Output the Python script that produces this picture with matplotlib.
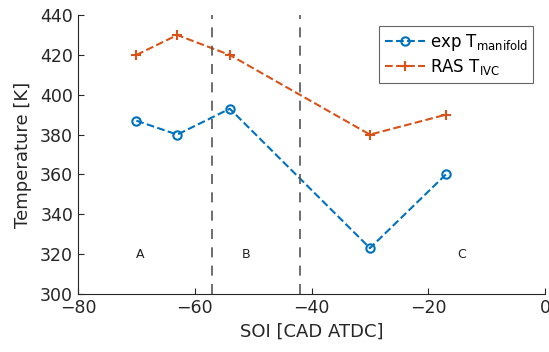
import numpy as np
import matplotlib
matplotlib.use('Agg')
import matplotlib.pyplot as plt

soi = [-70, -63, -54, -30, -17]
t_manifold = [387, 380, 393, 323, 360]
t_ivc = [420, 430, 420, 380, 390]

bounds = [-57, -42]
regions = ['A', 'B', 'C']
region_x = [-70, -52, -15]
region_y = 320

BLUE = '#0072BD'
ORANGE = '#D95319'
INK = '#262626'

plt.rcParams['font.family'] = 'DejaVu Sans'
fig = plt.figure(figsize=(5.49, 3.52), dpi=100)
ax = fig.add_axes([0.142, 0.165, 0.851, 0.792])

ax.plot(soi, t_manifold, '--o', color=BLUE, lw=1.5, ms=6, mfc='none', mew=1.5,
        label='exp T$_{\\mathregular{manifold}}$')
ax.plot(soi, t_ivc, '--+', color=ORANGE, lw=1.5, ms=7, mew=1.5,
        label='RAS T$_{\\mathregular{IVC}}$')
for b in bounds:
    ax.axvline(b, color='#555555', lw=1.2, ls=(0, (6, 5)))
for name, x in zip(regions, region_x):
    ax.text(x, region_y, name, fontsize=9, color='#222222', ha='left', va='center')

ax.set_xlim(-80, 0)
ax.set_ylim(300, 440)
ax.set_xticks(np.arange(-80, 1, 20))
ax.set_yticks(np.arange(300, 441, 20))
ax.tick_params(direction='in', length=4, colors=INK, labelsize=12.5, width=0.8)
for s in ('top', 'right'):
    ax.spines[s].set_visible(False)
for s in ('left', 'bottom'):
    ax.spines[s].set_color(INK)
    ax.spines[s].set_linewidth(0.8)
ax.set_xlabel('SOI [CAD ATDC]', fontsize=13, color=INK)
ax.set_ylabel('Temperature [K]', fontsize=13, color=INK, labelpad=6)

leg = ax.legend(loc='upper right', bbox_to_anchor=(0.975, 0.96), fontsize=12,
                fancybox=False, framealpha=1, edgecolor='#666666',
                handlelength=2.4, handletextpad=0.3, borderpad=0.35, labelspacing=0.25,
                borderaxespad=0)
leg.get_frame().set_linewidth(0.8)

fig.savefig('out.png', dpi=100)
